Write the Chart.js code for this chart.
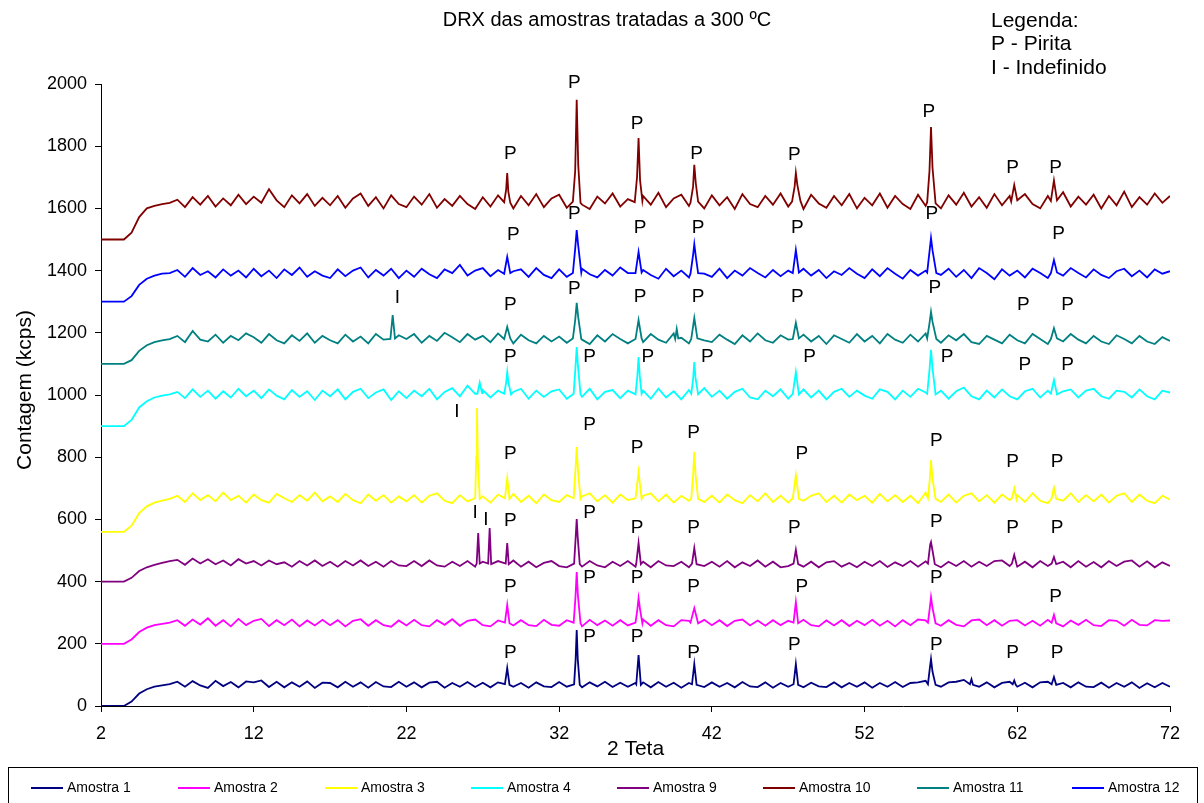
<!DOCTYPE html>
<html>
<head>
<meta charset="utf-8">
<title>DRX das amostras tratadas a 300 ºC</title>
<script src="https://cdn.jsdelivr.net/npm/chart.js@4.4.1/dist/chart.umd.min.js"></script>
<style>
  html, body { margin: 0; padding: 0; background: #fff; }
  canvas { display: block; }
</style>
</head>
<body>
<canvas id="drxChart" width="1204" height="803"></canvas>
<script>
// Scan grid: 2θ from 2 to 72, one reading every 0.5°
const twoTheta = Array.from({ length: 141 }, (_, i) => 2 + i * 0.5);

// Baseline counts (kcps), 10 readings per row (5°)
const amostra1 = [
  0, 0, 0, 0, 14, 40, 54, 62, 66, 70,
  78, 62, 80, 66, 58, 81, 64, 77, 60, 79,
  76, 82, 61, 78, 60, 76, 62, 79, 58, 75,
  74, 60, 78, 62, 76, 59, 77, 63, 61, 78,
  62, 76, 60, 75, 78, 59, 74, 62, 77, 61,
  75, 60, 76, 78, 62, 74, 59, 76, 63, 61,
  77, 62, 74, 60, 76, 63, 78, 61, 75, 62,
  74, 76, 60, 77, 62, 75, 59, 74, 78, 61,
  76, 62, 74, 60, 77, 63, 61, 76, 59, 74,
  62, 77, 60, 75, 63, 61, 76, 60, 74, 62,
  76, 59, 74, 62, 77, 61, 74, 76, 81, 64,
  62, 76, 78, 84, 75, 62, 76, 60, 74, 78,
  62, 75, 60, 76, 78, 62, 74, 60, 76, 62,
  61, 75, 59, 74, 62, 76, 58, 73, 60, 74,
  62
];
const amostra2 = [
  200, 200, 200, 200, 214, 238, 252, 260, 264, 268,
  276, 258, 278, 262, 282, 258, 276, 256, 280, 260,
  274, 280, 257, 276, 260, 278, 256, 275, 259, 277,
  260, 276, 256, 274, 279, 258, 276, 260, 255, 275,
  259, 277, 260, 256, 276, 261, 279, 258, 274, 278,
  260, 256, 275, 278, 259, 276, 260, 257, 277, 261,
  258, 276, 274, 256, 277, 260, 275, 258, 276, 259,
  274, 278, 258, 276, 260, 256, 276, 274, 258, 277,
  260, 276, 257, 274, 278, 259, 275, 258, 276, 260,
  274, 258, 277, 260, 256, 275, 259, 276, 257, 274,
  260, 277, 258, 274, 256, 276, 260, 278, 275, 260,
  258, 276, 261, 256, 275, 278, 260, 276, 258, 274,
  276, 259, 274, 258, 277, 260, 256, 275, 261, 277,
  260, 257, 276, 274, 258, 277, 261, 259, 276, 274,
  275
];
const amostra3 = [
  560, 560, 560, 560, 580, 620, 642, 654, 660, 666,
  676, 656, 684, 662, 678, 658, 686, 662, 676, 654,
  680, 662, 654, 682, 668, 656, 678, 660, 686, 658,
  674, 656, 682, 662, 652, 680, 660, 678, 654, 674,
  658, 678, 654, 676, 684, 660, 652, 678, 658, 680,
  674, 654, 680, 660, 682, 656, 676, 652, 680, 662,
  656, 678, 654, 674, 684, 658, 678, 654, 680, 662,
  654, 676, 684, 658, 680, 654, 676, 660, 684, 656,
  676, 654, 680, 662, 652, 678, 658, 684, 656, 676,
  654, 680, 660, 676, 684, 656, 676, 654, 680, 662,
  676, 654, 682, 658, 678, 656, 676, 652, 686, 660,
  656, 680, 654, 676, 684, 658, 678, 654, 680, 662,
  678, 656, 684, 660, 652, 680, 660, 684, 656, 678,
  658, 680, 654, 676, 684, 656, 680, 660, 652, 676,
  664
];
const amostra4 = [
  900, 900, 900, 900, 920, 960, 980, 992, 998, 1002,
  1010, 990, 1018, 994, 1014, 988, 1012, 992, 1020, 996,
  1014, 990, 1018, 998, 986, 1016, 994, 1012, 984, 1014,
  996, 1018, 986, 1010, 1020, 990, 1008, 1018, 984, 1012,
  990, 1014, 996, 1020, 986, 1010, 1022, 996, 1030, 1004,
  1016, 992, 1014, 988, 1010, 1020, 988, 1014, 994, 1012,
  1018, 988, 1012, 994, 1020, 986, 1010, 1016, 990, 1014,
  996, 1014, 988, 1020, 992, 1012, 986, 1016, 996, 1022,
  994, 1014, 988, 1010, 1020, 992, 986, 1014, 996, 1018,
  988, 1012, 1018, 992, 1014, 986, 1010, 1020, 994, 1014,
  998, 988, 1018, 1010, 986, 1014, 994, 1020, 1008, 990,
  1014, 988, 1012, 1024, 996, 986, 1014, 992, 1018, 996,
  986, 1012, 1020, 992, 1014, 988, 1012, 1018, 992, 1014,
  1020, 996, 988, 1014, 1010, 992, 1018, 996, 986, 1014,
  1008
];
const amostra9 = [
  400, 400, 400, 400, 412, 434, 446, 454, 460, 466,
  470, 454, 474, 458, 472, 456, 468, 452, 472, 458,
  466, 452, 468, 456, 462, 448, 466, 452, 468, 450,
  464, 448, 466, 452, 468, 450, 464, 448, 466, 452,
  450, 466, 450, 468, 452, 448, 464, 450, 466, 448,
  464, 448, 466, 450, 468, 448, 464, 446, 460, 466,
  450, 446, 464, 448, 466, 452, 446, 464, 450, 466,
  448, 464, 446, 466, 452, 450, 464, 446, 466, 450,
  464, 448, 466, 446, 462, 450, 468, 448, 464, 446,
  450, 466, 448, 464, 446, 462, 466, 448, 460, 446,
  464, 450, 466, 447, 462, 450, 466, 448, 465, 452,
  446, 464, 450, 466, 448, 464, 450, 466, 468, 450,
  448, 464, 446, 466, 450, 449, 464, 446, 466, 448,
  463, 446, 466, 450, 464, 468, 448, 465, 446, 462,
  450
];
const amostra10 = [
  1500, 1500, 1500, 1500, 1522, 1572, 1600, 1608, 1614, 1618,
  1628, 1604, 1636, 1612, 1640, 1606, 1632, 1610, 1644, 1614,
  1638, 1618, 1662, 1626, 1604, 1642, 1616, 1646, 1608, 1634,
  1610, 1640, 1602, 1632, 1648, 1608, 1636, 1600, 1642, 1614,
  1604, 1638, 1612, 1646, 1602, 1630, 1608, 1640, 1614, 1598,
  1636, 1606, 1642, 1614, 1600, 1640, 1610, 1646, 1604, 1632,
  1644, 1602, 1634, 1612, 1598, 1638, 1616, 1648, 1606, 1630,
  1600, 1640, 1612, 1650, 1604, 1632, 1644, 1608, 1636, 1600,
  1642, 1610, 1636, 1598, 1646, 1614, 1604, 1640, 1612, 1648,
  1606, 1636, 1598, 1644, 1616, 1602, 1640, 1610, 1646, 1600,
  1634, 1610, 1648, 1602, 1640, 1614, 1598, 1644, 1608, 1632,
  1600, 1642, 1612, 1650, 1606, 1636, 1602, 1646, 1610, 1640,
  1604, 1646, 1614, 1600, 1640, 1608, 1652, 1606, 1638, 1612,
  1644, 1600, 1640, 1610, 1654, 1604, 1636, 1612, 1648, 1618,
  1640
];
const amostra11 = [
  1100, 1100, 1100, 1100, 1112, 1142, 1160, 1170, 1176, 1180,
  1190, 1170, 1206, 1178, 1172, 1194, 1168, 1190, 1176, 1198,
  1186, 1168, 1196, 1176, 1166, 1192, 1174, 1198, 1168, 1190,
  1176, 1166, 1194, 1172, 1188, 1166, 1196, 1178, 1168, 1192,
  1180, 1196, 1168, 1190, 1174, 1200, 1186, 1170, 1196, 1178,
  1190, 1170, 1198, 1182, 1166, 1194, 1176, 1166, 1190, 1172,
  1188, 1168, 1194, 1178, 1164, 1192, 1172, 1196, 1180, 1166,
  1192, 1170, 1196, 1178, 1168, 1198, 1184, 1166, 1190, 1176,
  1170, 1194, 1178, 1164, 1192, 1172, 1198, 1176, 1168, 1192,
  1178, 1166, 1194, 1172, 1190, 1164, 1192, 1180, 1168, 1196,
  1172, 1190, 1166, 1196, 1178, 1168, 1194, 1172, 1198, 1184,
  1168, 1192, 1176, 1196, 1170, 1164, 1190, 1178, 1166, 1194,
  1176, 1166, 1196, 1180, 1164, 1190, 1172, 1196, 1178, 1166,
  1190, 1172, 1164, 1192, 1180, 1166, 1190, 1172, 1164, 1186,
  1174
];
const amostra12 = [
  1300, 1300, 1300, 1300, 1318, 1354, 1374, 1384, 1390, 1392,
  1402, 1380, 1408, 1386, 1398, 1378, 1404, 1384, 1400, 1378,
  1406, 1382, 1400, 1376, 1404, 1386, 1410, 1380, 1398, 1384,
  1376, 1404, 1382, 1400, 1410, 1378, 1402, 1384, 1406, 1376,
  1400, 1380, 1406, 1388, 1376, 1404, 1392, 1418, 1384, 1400,
  1408, 1382, 1402, 1378, 1398, 1404, 1380, 1408, 1386, 1376,
  1404, 1380, 1374, 1406, 1388, 1378, 1402, 1384, 1410, 1392,
  1378, 1402, 1386, 1374, 1406, 1382, 1400, 1378, 1404, 1390,
  1380, 1406, 1376, 1400, 1384, 1408, 1392, 1378, 1402, 1382,
  1400, 1378, 1406, 1384, 1402, 1376, 1398, 1386, 1408, 1390,
  1376, 1404, 1382, 1408, 1390, 1374, 1402, 1384, 1400, 1378,
  1386, 1406, 1380, 1402, 1376, 1408, 1392, 1372, 1404, 1384,
  1400, 1378, 1406, 1392, 1376, 1402, 1384, 1408, 1392, 1378,
  1404, 1386, 1376, 1398, 1406, 1382, 1400, 1378, 1404, 1390,
  1398
];

// Diffraction peaks [2θ, counts] for each sample
const peaks1 = [
  [[28.45, 70], [28.6, 122], [28.75, 68]],
  [[32.98, 70], [33.08, 150], [33.15, 244], [33.22, 150], [33.35, 68]],
  [[37.05, 70], [37.2, 164], [37.35, 68]],
  [[40.7, 70], [40.85, 135], [41.0, 68]],
  [[47.35, 70], [47.5, 135], [47.65, 68]],
  [[56.15, 70], [56.27, 120], [56.35, 151], [56.45, 110], [56.65, 68]],
  [[58.9, 70], [59.0, 86], [59.1, 68]],
  [[61.7, 70], [61.8, 82], [61.9, 68]],
  [[64.25, 70], [64.4, 93], [64.55, 68]]
];
const peaks2 = [
  [[28.45, 268], [28.6, 325], [28.75, 266]],
  [[32.95, 268], [33.07, 350], [33.15, 431], [33.23, 355], [33.4, 266]],
  [[37.0, 268], [37.12, 310], [37.2, 347], [37.3, 310], [37.45, 266]],
  [[40.6, 268], [40.85, 315], [41.1, 266]],
  [[47.35, 268], [47.5, 334], [47.65, 266]],
  [[56.15, 268], [56.27, 315], [56.35, 350], [56.45, 315], [56.65, 266]],
  [[64.25, 268], [64.4, 293], [64.55, 266]]
];
const peaks3 = [
  [[26.5, 668], [26.57, 800], [26.62, 958], [26.68, 790], [26.8, 666]],
  [[28.45, 668], [28.6, 733], [28.75, 666]],
  [[32.95, 668], [33.07, 760], [33.15, 833], [33.23, 760], [33.4, 666]],
  [[37.0, 668], [37.2, 752], [37.4, 666]],
  [[40.65, 668], [40.77, 740], [40.85, 817], [40.93, 745], [41.1, 666]],
  [[47.3, 668], [47.5, 743], [47.7, 666]],
  [[56.15, 668], [56.27, 730], [56.35, 791], [56.45, 730], [56.65, 666]],
  [[61.65, 668], [61.8, 700], [61.95, 666]],
  [[64.25, 668], [64.4, 702], [64.55, 666]]
];
const peaks4 = [
  [[26.65, 1004], [26.8, 1040], [26.95, 1006]],
  [[28.4, 1004], [28.53, 1040], [28.6, 1074], [28.68, 1040], [28.85, 1002]],
  [[32.95, 1004], [33.07, 1090], [33.15, 1154], [33.23, 1095], [33.4, 1002]],
  [[37.0, 1002], [37.12, 1060], [37.2, 1122], [37.28, 1060], [37.4, 1004]],
  [[40.65, 1004], [40.77, 1050], [40.85, 1106], [40.93, 1055], [41.1, 1002]],
  [[47.3, 1004], [47.5, 1074], [47.7, 1002]],
  [[56.1, 1004], [56.25, 1080], [56.35, 1145], [56.45, 1085], [56.65, 1002]],
  [[64.2, 1004], [64.4, 1048], [64.6, 1002]]
];
const peaks9 = [
  [[26.6, 458], [26.7, 556], [26.8, 458]],
  [[27.35, 458], [27.45, 572], [27.55, 456]],
  [[28.5, 458], [28.6, 524], [28.7, 456]],
  [[32.98, 458], [33.08, 540], [33.15, 601], [33.22, 540], [33.35, 456]],
  [[37.05, 458], [37.2, 524], [37.35, 456]],
  [[40.7, 458], [40.85, 508], [41.0, 456]],
  [[47.35, 458], [47.5, 502], [47.65, 456]],
  [[56.15, 458], [56.3, 520], [56.35, 527], [56.45, 500], [56.6, 456]],
  [[61.65, 458], [61.8, 486], [61.95, 456]],
  [[64.25, 458], [64.4, 479], [64.55, 456]]
];
const peaks10 = [
  [[28.4, 1620], [28.53, 1660], [28.6, 1714], [28.67, 1655], [28.8, 1618]],
  [[32.9, 1622], [33.05, 1720], [33.15, 1949], [33.25, 1740], [33.4, 1618]],
  [[36.95, 1620], [37.1, 1700], [37.2, 1826], [37.3, 1690], [37.45, 1624]],
  [[40.6, 1618], [40.77, 1670], [40.85, 1740], [40.95, 1680], [41.1, 1622]],
  [[47.25, 1622], [47.42, 1670], [47.5, 1714], [47.6, 1675], [47.8, 1624]],
  [[56.1, 1620], [56.25, 1720], [56.35, 1862], [56.45, 1730], [56.65, 1616]],
  [[61.6, 1622], [61.8, 1675], [62.0, 1626]],
  [[64.2, 1624], [64.4, 1690], [64.6, 1626]]
];
const peaks11 = [
  [[20.95, 1180], [21.1, 1257], [21.25, 1182]],
  [[28.4, 1180], [28.6, 1219], [28.8, 1182]],
  [[32.9, 1182], [33.05, 1240], [33.15, 1296], [33.25, 1250], [33.45, 1180]],
  [[37.0, 1180], [37.2, 1241], [37.4, 1182]],
  [[39.6, 1180], [39.7, 1212], [39.8, 1182]],
  [[40.65, 1180], [40.85, 1248], [41.05, 1182]],
  [[47.3, 1180], [47.5, 1232], [47.7, 1182]],
  [[56.1, 1182], [56.25, 1230], [56.35, 1267], [56.45, 1235], [56.7, 1180]],
  [[64.2, 1180], [64.4, 1215], [64.6, 1182]]
];
const peaks12 = [
  [[28.4, 1390], [28.6, 1444], [28.8, 1392]],
  [[32.9, 1392], [33.05, 1470], [33.15, 1530], [33.25, 1480], [33.45, 1394]],
  [[37.0, 1392], [37.2, 1460], [37.4, 1394]],
  [[40.6, 1390], [40.77, 1450], [40.85, 1485], [40.95, 1445], [41.1, 1392]],
  [[47.3, 1392], [47.5, 1466], [47.7, 1394]],
  [[56.1, 1394], [56.25, 1460], [56.35, 1505], [56.45, 1465], [56.7, 1392]],
  [[64.2, 1392], [64.4, 1434], [64.6, 1394]]
];

const seriesNames = ["Amostra 1", "Amostra 2", "Amostra 3", "Amostra 4", "Amostra 9", "Amostra 10", "Amostra 11", "Amostra 12"];
const seriesColors = ["#000080", "#FF00FF", "#FFFF00", "#00FFFF", "#800080", "#800000", "#008080", "#0000FF"];
const seriesValues = [amostra1, amostra2, amostra3, amostra4, amostra9, amostra10, amostra11, amostra12];
const seriesPeaks = [peaks1, peaks2, peaks3, peaks4, peaks9, peaks10, peaks11, peaks12];

// Phase marks: [2θ, counts, text]  (P - Pirita, I - Indefinido)
const phaseLabels = [
  // Amostra 10
  [33.0, 2003, "P"], [37.1, 1871, "P"], [28.8, 1776, "P"], [41.0, 1776, "P"],
  [47.4, 1772, "P"], [56.2, 1910, "P"], [61.7, 1730, "P"], [64.5, 1730, "P"],
  // Amostra 12
  [33.0, 1582, "P"], [29.0, 1514, "P"], [37.3, 1537, "P"], [41.1, 1537, "P"],
  [47.6, 1537, "P"], [56.4, 1582, "P"], [64.7, 1517, "P"],
  // Amostra 11
  [21.4, 1312, "I"], [33.0, 1340, "P"], [28.8, 1289, "P"], [37.3, 1315, "P"],
  [41.1, 1315, "P"], [47.6, 1315, "P"], [56.6, 1344, "P"], [62.4, 1289, "P"], [65.3, 1289, "P"],
  // Amostra 4
  [28.8, 1122, "P"], [34.0, 1122, "P"], [37.8, 1122, "P"], [41.7, 1122, "P"],
  [48.4, 1122, "P"], [57.4, 1122, "P"], [62.5, 1096, "P"], [65.3, 1096, "P"],
  // Amostra 3
  [25.3, 945, "I"], [34.0, 904, "P"], [40.8, 878, "P"], [28.8, 810, "P"],
  [37.1, 830, "P"], [47.9, 810, "P"], [56.7, 852, "P"], [61.7, 785, "P"], [64.6, 785, "P"],
  // Amostra 9
  [26.5, 621, "I"], [27.2, 598, "I"], [28.8, 595, "P"], [34.0, 621, "P"], [37.1, 574, "P"],
  [40.8, 574, "P"], [47.4, 574, "P"], [56.7, 592, "P"], [61.7, 574, "P"], [64.6, 574, "P"],
  // Amostra 2
  [28.8, 383, "P"], [34.0, 412, "P"], [37.1, 412, "P"], [40.8, 383, "P"],
  [47.9, 383, "P"], [56.7, 412, "P"], [64.5, 350, "P"],
  // Amostra 1
  [28.8, 172, "P"], [34.0, 222, "P"], [37.1, 222, "P"], [40.8, 172, "P"],
  [47.4, 196, "P"], [56.7, 196, "P"], [61.7, 172, "P"], [64.6, 172, "P"]
];

const xTicks = [2, 12, 22, 32, 42, 52, 62, 72];
const FONT = "'Liberation Sans', Arial, Helvetica, sans-serif";

// baseline grid with the peak segments laid in where they fall
function buildPoints(values, peaks) {
  const pts = [];
  twoTheta.forEach((x, i) => {
    const inPeak = peaks.some(p => x >= p[0][0] && x <= p[p.length - 1][0]);
    if (!inPeak) pts.push({ x: x, y: values[i] });
  });
  peaks.forEach(p => p.forEach(([x, y]) => pts.push({ x: x, y: y })));
  return pts.sort((a, b) => a.x - b.x);
}

const datasets = seriesNames.map((name, i) => ({
  label: name,
  data: buildPoints(seriesValues[i], seriesPeaks[i]),
  borderColor: seriesColors[i],
  backgroundColor: seriesColors[i],
  borderWidth: 1.8,
  pointRadius: 0,
  tension: 0,
  fill: false
}));

// Texts, phase marks and the boxed legend
const decorPlugin = {
  id: "decor",
  afterDraw(chart) {
    const { ctx, chartArea, scales } = chart;
    ctx.save();
    ctx.fillStyle = "#000";

    // title
    ctx.font = "20px " + FONT;
    ctx.textAlign = "center";
    ctx.textBaseline = "middle";
    ctx.fillText("DRX das amostras tratadas a 300 ºC", 607, 20);

    // phase key
    ctx.font = "21px " + FONT;
    ctx.textAlign = "left";
    ctx.textBaseline = "alphabetic";
    ctx.fillText("Legenda:", 991, 27);
    ctx.fillText("P - Pirita", 991, 50);
    ctx.fillText("I - Indefinido", 991, 74);

    // axis titles
    ctx.textAlign = "center";
    ctx.textBaseline = "middle";
    ctx.fillText("2 Teta", (chartArea.left + chartArea.right) / 2, 749);
    ctx.save();
    ctx.translate(25, 390);
    ctx.rotate(-Math.PI / 2);
    ctx.fillText("Contagem (kcps)", 0, 0);
    ctx.restore();

    // phase marks over the peaks
    ctx.font = "19px " + FONT;
    phaseLabels.forEach(([x, y, t]) => {
      ctx.fillText(t, scales.x.getPixelForValue(x), scales.y.getPixelForValue(y));
    });

    // legend box
    ctx.strokeStyle = "#000";
    ctx.lineWidth = 1;
    ctx.strokeRect(8.5, 767.5, 1189, 40);
    const legendX = [31, 178, 325, 471, 617, 763, 917, 1072];
    ctx.font = "14px " + FONT;
    ctx.textAlign = "left";
    seriesNames.forEach((name, i) => {
      const lx = legendX[i];
      ctx.strokeStyle = seriesColors[i];
      ctx.lineWidth = 2;
      ctx.beginPath();
      ctx.moveTo(lx, 788);
      ctx.lineTo(lx + 32, 788);
      ctx.stroke();
      ctx.fillStyle = "#000";
      ctx.fillText(name, lx + 36, 788);
    });
    ctx.restore();
  }
};

new Chart(document.getElementById("drxChart"), {
  type: "line",
  data: { datasets: datasets },
  options: {
    responsive: false,
    animation: false,
    devicePixelRatio: 1,
    layout: { padding: { left: 0, right: 34, top: 84, bottom: 0 } },
    plugins: {
      legend: { display: false },
      title: { display: false },
      tooltip: { enabled: false }
    },
    scales: {
      x: {
        type: "linear",
        min: 2,
        max: 72,
        afterBuildTicks: s => { s.ticks = xTicks.map(v => ({ value: v })); },
        afterFit: s => { s.height = 97; },
        border: { display: true, color: "#000", width: 1 },
        grid: { drawOnChartArea: false, drawTicks: true, tickLength: 6, color: "#000" },
        ticks: { color: "#000", font: { family: FONT, size: 18 }, padding: 11, maxRotation: 0 }
      },
      y: {
        min: 0,
        max: 2000,
        ticks: {
          stepSize: 200,
          color: "#000",
          font: { family: FONT, size: 18 },
          padding: 8,
          callback: v => String(v)
        },
        afterFit: s => { s.width = 101; },
        border: { display: true, color: "#000", width: 1 },
        grid: { drawOnChartArea: false, drawTicks: true, tickLength: 6, color: "#000" }
      }
    }
  },
  plugins: [decorPlugin]
});
</script>
</body>
</html>
